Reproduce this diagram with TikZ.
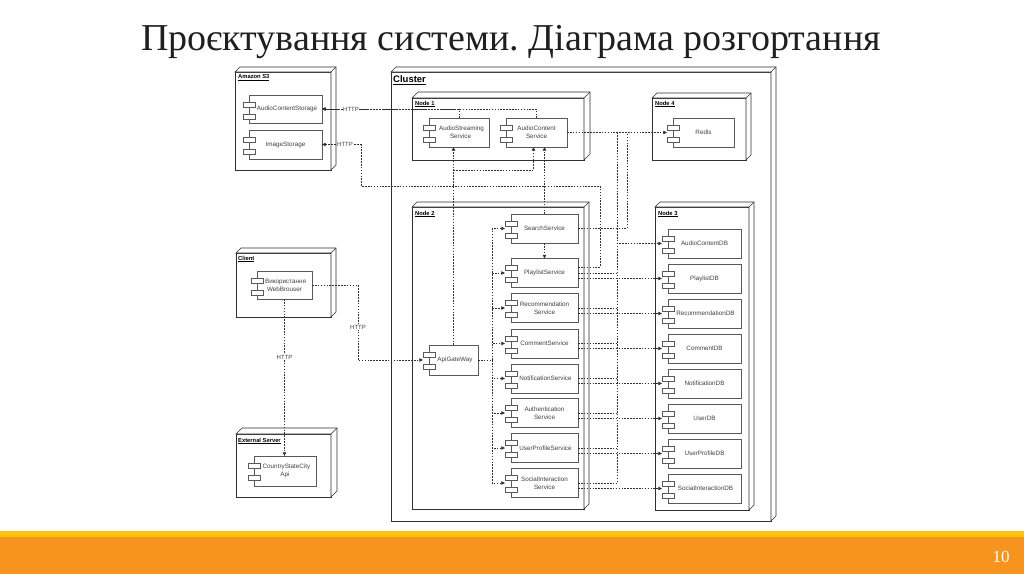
\documentclass[tikz,border=0pt]{standalone}
\usepackage{fontspec}
\setmainfont{Liberation Serif}
\newfontfamily\arialf{Liberation Sans}
\usetikzlibrary{arrows.meta,calc}
\definecolor{orangebar}{HTML}{F7941D}
\definecolor{yellowbar}{HTML}{FFC20E}
\definecolor{lineclr}{HTML}{303030}
\definecolor{txtclr}{HTML}{404040}
\tikzset{
  boxline/.style={draw=lineclr, line width=0.6pt},
  box3d/.style={boxline, fill=white, inner sep=0pt, outer sep=0pt},
  comp/.style={draw=lineclr!80, line width=0.6pt, fill=white, inner sep=0pt, outer sep=0pt,
     align=center, text=txtclr, font=\arialf\fontsize{6.3}{7.8}\selectfont},
  compicon/.style={draw=lineclr!80, line width=0.6pt, fill=white},
  lbl/.style={anchor=west, inner sep=0pt, text=black, font=\arialf\bfseries\fontsize{5.8}{7}\selectfont},
  conn/.style={draw=lineclr, line width=0.55pt, dash pattern=on 1.6pt off 1.3pt},
  arr/.style={conn, -{Triangle[length=3.6pt,width=3.4pt]}},
  http/.style={fill=white, inner sep=0.6pt, text=txtclr, font=\arialf\fontsize{6}{7}\selectfont}
}
\newcommand\depthfaces[2]{%
  \draw[boxline, fill=white] (#1.north west) -- ++(#2,-#2) -- ([shift={(#2,-#2)}]#1.north east)
     -- ([shift={(#2,-#2)}]#1.south east) -- (#1.south east) -- (#1.north east) -- cycle;
  \draw[boxline] (#1.north east) -- ++(#2,-#2);
}
\newcommand\compicons[1]{%
  \draw[compicon] ([shift={(-6,7)}]#1.north west) rectangle ++(12,5);
  \draw[compicon] ([shift={(-6,19)}]#1.north west) rectangle ++(12,5);
}
\begin{document}
\frenchspacing
\begin{tikzpicture}[x=1pt, y=-1pt]
\useasboundingbox (0,0) rectangle (1024,574);
\fill[white] (0,0) rectangle (1024,574);

% title
\node[font=\fontsize{38}{44}\selectfont, text=black!88] (title) at (511,42) {Проєктування системи. Діаграма розгортання};

% bottom bar
\fill[yellowbar] (0,531) rectangle (1024,537);
\fill[orangebar] (0,537) rectangle (1024,574);
\node[text=white, font=\fontsize{17}{20}\selectfont] (pnum) at (1001,557) {10};

% deployment nodes
\node[box3d, minimum width=380pt, minimum height=449pt] (cluster) at (581,296.5) {};
\depthfaces{cluster}{5}
\node[box3d, minimum width=96pt, minimum height=98pt] (s3) at (283,121) {};
\depthfaces{s3}{5}
\node[box3d, minimum width=172pt, minimum height=62pt] (node1) at (498,129) {};
\depthfaces{node1}{6}
\node[box3d, minimum width=94pt, minimum height=62pt] (node4) at (699,129) {};
\depthfaces{node4}{5}
\node[box3d, minimum width=172pt, minimum height=302pt] (node2) at (498,358) {};
\depthfaces{node2}{5}
\node[box3d, minimum width=94pt, minimum height=303pt] (node3) at (702,358.5) {};
\depthfaces{node3}{5}
\node[box3d, minimum width=95pt, minimum height=64pt] (client) at (283.5,285) {};
\depthfaces{client}{5}
\node[box3d, minimum width=95pt, minimum height=63pt] (ext) at (283.5,465.5) {};
\depthfaces{ext}{6}

% node labels
\node[lbl, font=\arialf\bfseries\fontsize{9.5}{11}\selectfont] (lcluster) at (393,80) {\underline{Cluster}};
\node[lbl] (ls3) at (238,78) {\underline{Amazon S3}};
\node[lbl] (lnode1) at (415,104) {\underline{Node 1}};
\node[lbl] (lnode4) at (655,104) {\underline{Node 4}};
\node[lbl] (lnode2) at (415,214) {\underline{Node 2}};
\node[lbl] (lnode3) at (658,214) {\underline{Node 3}};
\node[lbl] (lclient) at (238,259) {\underline{Client}};
\node[lbl] (lext) at (238,441) {\underline{External Server}};

% named coordinates for buses
\coordinate (busTop) at (617,132.5);
\coordinate (busBot) at (617,483);
\coordinate (gwBus) at (492,360);
\coordinate (jgw) at (453.5,170);
\coordinate (jSearch) at (627,132.5);

% components
\begin{scope}[every node/.append style={comp}]
\node[minimum width=73pt, minimum height=28pt] (acs) at (285.5,109) {\hspace*{3pt}AudioContentStorage};
\node[minimum width=73pt, minimum height=29pt] (imgst) at (285.5,144.5) {ImageStorage};
\node[minimum width=60pt, minimum height=29pt] (stream) at (459,132.5) {\hspace*{5pt}AudioStreaming\\\hspace*{3pt}Service};
\node[minimum width=61pt, minimum height=29pt] (content) at (536.5,132.5) {AudioContent\\Service};
\node[minimum width=61pt, minimum height=29pt] (redis) at (703.5,132.5) {Redis};
\node[minimum width=55pt, minimum height=28pt] (browser) at (284.5,285) {\hspace*{2pt}Використання\\WebBrouser};
\node[minimum width=62pt, minimum height=30pt] (country) at (285,471) {\hspace*{3pt}CountryStateCity\\Api};
\node[minimum width=49pt, minimum height=30pt] (gw) at (453.5,360) {\hspace*{3pt}ApiGateWay};
\node[minimum width=67pt, minimum height=29pt] (search) at (544.5,228.5) {SearchService};
\node[minimum width=67pt, minimum height=29pt] (playlist) at (544.5,273) {PlaylistService};
\node[minimum width=67pt, minimum height=29pt] (recom) at (544.5,308) {Recommendation\\Service};
\node[minimum width=67pt, minimum height=29pt] (comment) at (544.5,343.5) {CommentService};
\node[minimum width=67pt, minimum height=29pt] (notif) at (544.5,378.5) {\hspace*{2pt}NotificationService};
\node[minimum width=67pt, minimum height=29pt] (auth) at (544.5,413) {Authentication\\Service};
\node[minimum width=67pt, minimum height=29pt] (uprof) at (544.5,448) {\hspace*{2pt}UserProfileService};
\node[minimum width=67pt, minimum height=29pt] (social) at (544.5,483) {SocialInteraction\\Service};
\node[minimum width=73pt, minimum height=29pt] (acdb) at (704.5,243.5) {AudioContentDB};
\node[minimum width=73pt, minimum height=29pt] (pldb) at (704.5,278.5) {PlaylistDB};
\node[minimum width=73pt, minimum height=29pt] (recdb) at (704.5,313.5) {\hspace*{2pt}RecommendationDB};
\node[minimum width=73pt, minimum height=29pt] (comdb) at (704.5,348.5) {CommentDB};
\node[minimum width=73pt, minimum height=29pt] (notdb) at (704.5,383.5) {NotificationDB};
\node[minimum width=73pt, minimum height=29pt] (userdb) at (704.5,418.5) {UserDB};
\node[minimum width=73pt, minimum height=29pt] (updb) at (704.5,453.5) {UserProfileDB};
\node[minimum width=73pt, minimum height=29pt] (sidb) at (704.5,488.5) {\hspace*{2pt}SocialInteractionDB};
\end{scope}

% connectors
\draw[arr] (stream.north) |- (acs.east);
\draw[arr] (content.north) |- (acs.east);
\node[http] (h1) at (351,109) {HTTP};
\draw[arr] ([yshift=6pt]playlist.east) -- (600,267) -- (600,186) -- (361,186) |- (imgst.east);
\node[http] (h2) at (345,144.5) {HTTP};
\draw[arr] (content.east) -- ([xshift=-6pt]redis.west);
\draw[arr] (busTop) |- ([xshift=-6pt]acdb.west);
\draw[conn] (search.east) -| (jSearch);
\draw[conn] (busTop) -- (busBot);
\draw[arr] (search.south) -- (playlist.north);
\draw[arr] (search.north) -- (search.north |- content.south);
\draw[arr] (gw.north) -- (gw.north |- stream.south);
\draw[arr] (jgw) -| ([xshift=-3pt]content.south);
\draw[conn] (gw.east) -- (gwBus);
\foreach \s in {search,playlist,recom,comment,notif,auth,uprof,social}{
  \draw[arr] (gwBus) |- ([xshift=-6pt]\s.west);
}
\foreach \s in {playlist,recom,comment,notif,auth,uprof,social}{
  \draw[conn] (\s.east) -- (\s.east -| busTop);
}
\foreach \s/\d in {playlist/pldb,recom/recdb,comment/comdb,notif/notdb,auth/userdb,uprof/updb,social/sidb}{
  \draw[arr] (\s.east |- \d.west) -- ([xshift=-6pt]\d.west);
}
\draw[arr] (browser.east) -- (358,285) |- ([xshift=-6pt]gw.west);
\node[http] (h3) at (358,327) {HTTP};
\draw[arr] (browser.south) -- (browser.south |- country.north);
\node[http] (h4) at (284.5,357) {HTTP};

% component icons on top
\foreach \c in {acs,imgst,stream,content,redis,browser,country,gw,search,playlist,recom,comment,notif,auth,uprof,social,acdb,pldb,recdb,comdb,notdb,userdb,updb,sidb}{
  \compicons{\c}
}
\end{tikzpicture}
\end{document}
